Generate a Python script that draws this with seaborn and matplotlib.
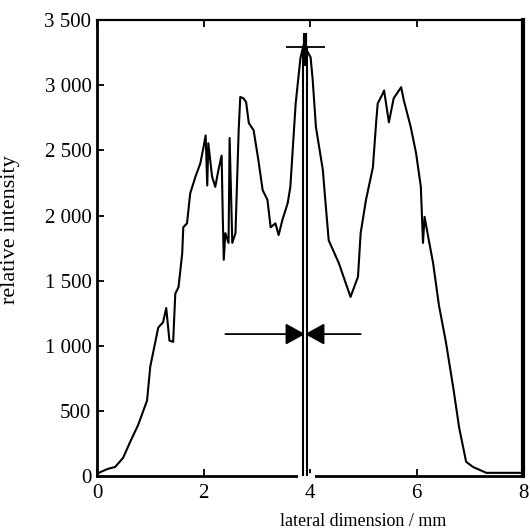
import numpy as np
import pandas as pd
import matplotlib
matplotlib.use("Agg")
import matplotlib.pyplot as plt
import seaborn as sns
from matplotlib.ticker import FuncFormatter, MultipleLocator

# profile
lateral_mm = [0.00, 0.06, 0.20, 0.34, 0.49, 0.62, 0.77, 0.94, 1.00, 1.05,
              1.15, 1.24, 1.30, 1.36, 1.43, 1.47, 1.53, 1.56, 1.60, 1.62,
              1.69, 1.75, 1.85, 1.94, 2.00, 2.04, 2.07, 2.09, 2.16, 2.22,
              2.28, 2.34, 2.36, 2.38, 2.41, 2.47, 2.49, 2.54, 2.60, 2.66,
              2.69, 2.75, 2.80, 2.85, 2.94, 3.03, 3.11, 3.20, 3.26, 3.35,
              3.41, 3.48, 3.58, 3.63, 3.73, 3.82, 3.88, 4.01, 4.05, 4.11,
              4.24, 4.29, 4.35, 4.54, 4.76, 4.90, 4.95, 5.05, 5.18, 5.24,
              5.27, 5.37, 5.39, 5.48, 5.57, 5.71, 5.76, 5.89, 5.99, 6.08,
              6.12, 6.15, 6.23, 6.31, 6.42, 6.55, 6.69, 6.80, 6.93, 7.06,
              7.31, 8.00]
intensity = [15, 30, 55, 70, 140, 260, 390, 580, 840, 940,
             1140, 1180, 1290, 1040, 1030, 1400, 1450, 1560, 1710, 1910,
             1940, 2170, 2300, 2400, 2525, 2615, 2230, 2555, 2300, 2220,
             2350, 2460, 2020, 1660, 1865, 1790, 2595, 1790, 1865, 2655,
             2910, 2900, 2870, 2710, 2655, 2425, 2195, 2120, 1910, 1940,
             1850, 1965, 2095, 2220, 2860, 3210, 3310, 3215, 3040, 2680,
             2350, 2100, 1810, 1635, 1375, 1530, 1865, 2120, 2370, 2710,
             2860, 2940, 2960, 2715, 2900, 2985, 2885, 2680, 2480, 2220,
             1790, 1990, 1810, 1635, 1310, 1030, 675, 370, 110, 70,
             25, 25]

# markers on the plot
center_x = [3.87, 3.94]
peak_top = 3300
half_max = 1090
width_left, width_right = 2.41, 4.95

df = pd.DataFrame({"x": lateral_mm, "y": intensity})

sns.set_style("ticks")
plt.rcParams["font.family"] = ["Liberation Serif", "DejaVu Serif"]
plt.rcParams["text.color"] = "black"
plt.rcParams["axes.labelcolor"] = "black"
plt.rcParams["xtick.color"] = "black"
plt.rcParams["ytick.color"] = "black"

fig = plt.figure(figsize=(5.30, 5.29), dpi=100)
ax = fig.add_axes([0.183, 0.100, 0.804, 0.862])

sns.lineplot(data=df, x="x", y="y", sort=False, estimator=None,
             color="black", lw=1.5, ax=ax)

# double vertical line through the peak + crossbar on top
ax.vlines(center_x, 0, peak_top, color="black", lw=1.5, zorder=4, clip_on=False)
ax.vlines(np.mean(center_x), 3150, 3400, color="black", lw=3, zorder=4)
ax.hlines(3290, 3.54, 4.29, color="black", lw=1.3)

# gap in the bottom axis where the lines cross it
ax.hlines(0, 3.77, 4.10, color="white", lw=4, zorder=3, clip_on=False)

# width arrows
head = dict(arrowstyle="-|>,head_length=1.0,head_width=0.55", mutation_scale=12,
            color="black", lw=1.3, shrinkA=0, shrinkB=0)
ax.annotate("", xy=(np.mean(center_x), half_max), xytext=(width_left, half_max), arrowprops=head)
ax.annotate("", xy=(np.mean(center_x), half_max), xytext=(width_right, half_max), arrowprops=head)

ax.set_xlim(0, 8)
ax.set_ylim(0, 3500)
ax.xaxis.set_major_locator(MultipleLocator(2))
ax.yaxis.set_major_locator(MultipleLocator(500))
ax.yaxis.set_major_formatter(FuncFormatter(lambda v, p: f"{int(v):,}".replace(",", " ")))
ax.tick_params(direction="in", length=5, width=1.3, labelsize=15, top=True)
ax.tick_params(axis="x", pad=6)
ax.tick_params(axis="y", pad=4)

for side, w in [("left", 2.0), ("bottom", 2.0), ("top", 1.6), ("right", 3.0)]:
    ax.spines[side].set_linewidth(w)
    ax.spines[side].set_color("black")

ax.set_xlabel("lateral dimension / mm", fontsize=13)
ax.set_ylabel("relative intensity", fontsize=16)
ax.xaxis.set_label_coords(0.624, -0.081)
ax.yaxis.set_label_coords(-0.181, 0.54)

fig.savefig("out.png", dpi=100)
